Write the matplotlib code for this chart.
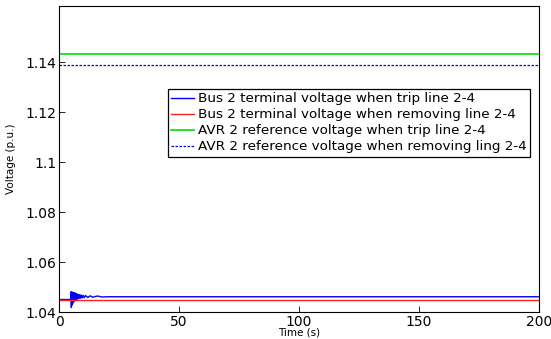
import matplotlib
matplotlib.use('Agg')
import matplotlib.pyplot as plt

# Bus 2 terminal voltage, trip case: steady, then ringing after the trip at t=5 s
t_trip = [0, 4.9, 5.0, 5.15, 5.3, 5.45, 5.6, 5.75, 5.9, 6.05, 6.2, 6.35, 6.5, 6.65,
          6.8, 7.0, 7.2, 7.4, 7.6, 7.8, 8.0, 8.3, 8.6, 8.9, 9.2, 9.6, 10.0, 10.5,
          11.0, 12.0, 13.0, 14.0, 16.0, 18.0, 20.0, 200]
v_trip = [1.045, 1.045, 1.0481, 1.0418, 1.0480, 1.0428, 1.0479, 1.0435, 1.0478, 1.0440,
          1.0477, 1.0444, 1.0476, 1.0447, 1.0475, 1.0449, 1.0474, 1.0451, 1.0472, 1.0453,
          1.0470, 1.0454, 1.0469, 1.0455, 1.0468, 1.0456, 1.0467, 1.0457, 1.0466, 1.0458,
          1.0465, 1.0459, 1.0464, 1.0460, 1.0461, 1.0461]

# Bus 2 terminal voltage, line removal case
t_remove = [0, 200]
v_remove = [1.0448, 1.0448]

# AVR 2 reference voltages
t_ref = [0, 200]
vref_trip = [1.1433, 1.1433]
vref_remove = [1.1389, 1.1389]

labels = ['Bus 2 terminal voltage when trip line 2-4',
          'Bus 2 terminal voltage when removing line 2-4',
          'AVR 2 reference voltage when trip line 2-4',
          'AVR 2 reference voltage when removing ling 2-4']

fig = plt.figure(figsize=(5.51, 3.39), dpi=100)
ax = fig.add_axes([59/551, 27/339, 480/551, 306/339])

ax.plot(t_trip, v_trip, color='#0000ff', lw=1.0, label=labels[0])
ax.plot(t_remove, v_remove, color='#ff2020', lw=1.0, label=labels[1])
ax.plot(t_ref, vref_trip, color='#00e000', lw=1.2, label=labels[2])
ax.plot(t_ref, vref_remove, color='#0000ff', lw=0.9, ls=(0, (2, 1.2)), label=labels[3])

ax.set_xlim(0, 200)
ax.set_ylim(1.04, 1.1625)
ax.set_xticks([0, 50, 100, 150, 200])
ax.set_yticks([1.04, 1.06, 1.08, 1.1, 1.12, 1.14])
ax.set_yticklabels(['1.04', '1.06', '1.08', '1.1', '1.12', '1.14'])
ax.tick_params(direction='in', labelsize=10, length=4, width=0.6, pad=2)
for s in ax.spines.values():
    s.set_linewidth(0.8)

ax.set_xlabel('Time (s)', fontsize=7.5, labelpad=-1)
ax.set_ylabel('Voltage (p.u.)', fontsize=7.5, labelpad=7)

leg = ax.legend(loc='upper left', bbox_to_anchor=(109/480, 1 - 83/306), fontsize=9.7,
                frameon=True, fancybox=False, framealpha=1, edgecolor='black',
                handlelength=1.7, handletextpad=0.3, borderpad=0.25,
                labelspacing=0.22, borderaxespad=0)
leg.get_frame().set_linewidth(0.9)

fig.savefig('out.png', dpi=100)
